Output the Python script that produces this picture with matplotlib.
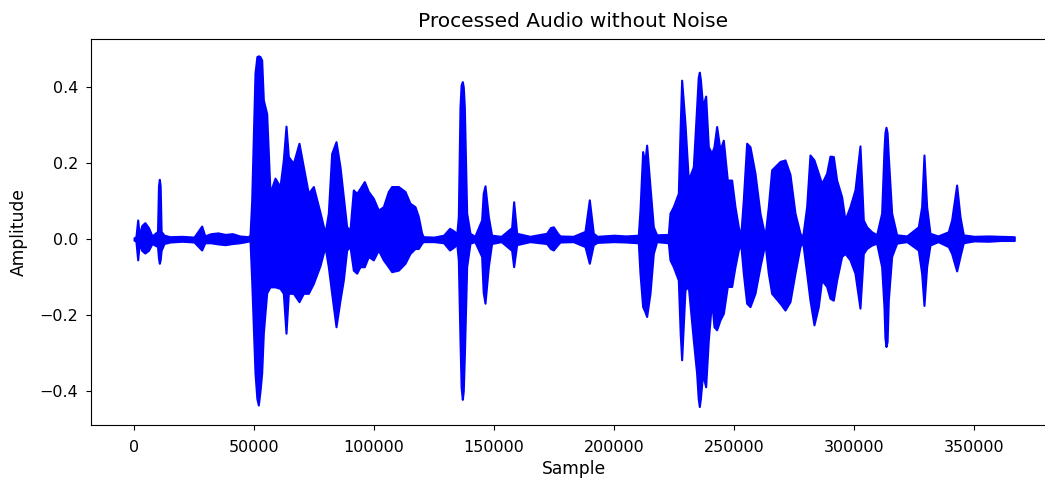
import numpy as np
import matplotlib
matplotlib.use("Agg")
import matplotlib.pyplot as plt

# envelope of the waveform (sample index, upper, lower)
sample = [0, 800, 1540, 2200, 3200, 4500, 6000, 7500, 9800, 10200, 10550, 10900, 11300, 12500,
          15000, 20000, 25000, 28200, 29500, 32000, 35000, 38000, 41000, 44000, 47500,
          48333, 49030, 50417, 51200, 51806, 52500, 53194, 53889, 55278, 56667, 58750, 60833, 62222,
          63333, 64306, 66389, 68750, 70556, 72639, 74722, 77500, 79583, 80972, 82361,
          84167, 85833, 87222, 88611, 90000, 91389, 92778, 94167, 95972, 97639, 99722,
          101806, 103889, 105972, 107361, 110139, 112917, 115000, 117083, 118472, 119861,
          120556, 125000, 129000, 131500, 133500, 134444, 135139, 135833, 136300, 136806, 137200, 137639,
          138611, 140000, 142000, 144861, 145500, 146250, 147639, 149000, 153000, 157361,
          158194, 159444, 165000, 171944, 173500, 174722, 176500, 177500, 183000, 187917,
          189722, 191389, 193000, 200000, 205000, 210139, 210833, 211944, 212800, 213611,
          215000, 216389, 217778, 222639, 223333, 224722, 226806, 227600, 228194, 229583,
          230972, 233056, 234444, 235100, 235556, 236000, 236944, 238194, 239306, 240694, 241667, 242778,
          244167, 245556, 247222, 249028, 250417, 251806, 252778, 253889, 255278, 256667,
          258750, 260833, 262917, 264306, 265694, 269167, 271250, 273333, 275417, 277500,
          278611, 280278, 281667, 283333, 285139, 286528, 288611, 290000, 291389, 292778,
          294861, 296250, 298333, 300417, 302500, 303889, 305278, 307361, 309444, 311528,
          312500, 312900, 313333, 313800, 314306, 315694, 317778, 322000, 326806, 328194, 329167, 330278,
          331667, 335000, 339306, 340694, 342778, 344167, 345556, 350000, 356000, 361000,
          366800]

upper = [0.003, 0.006, 0.050, 0.008, 0.035, 0.043, 0.030, 0.008, 0.020, 0.140, 0.157, 0.140, 0.020, 0.010,
         0.006, 0.007, 0.005, 0.034, 0.008, 0.014, 0.016, 0.012, 0.014, 0.008, 0.006,
         0.010, 0.100, 0.437, 0.480, 0.482, 0.480, 0.471, 0.366, 0.330, 0.121, 0.160, 0.138, 0.208,
         0.297, 0.217, 0.199, 0.252, 0.190, 0.120, 0.138, 0.070, 0.015, 0.068, 0.225,
         0.256, 0.190, 0.111, 0.032, 0.024, 0.129, 0.120, 0.133, 0.151, 0.125, 0.107,
         0.076, 0.085, 0.125, 0.138, 0.138, 0.125, 0.094, 0.085, 0.059, 0.015,
         0.006, 0.005, 0.010, 0.028, 0.020, 0.010, 0.059, 0.348, 0.405, 0.414, 0.400, 0.348,
         0.068, 0.015, 0.007, 0.050, 0.120, 0.140, 0.059, 0.010, 0.007, 0.030,
         0.098, 0.015, 0.007, 0.015, 0.030, 0.032, 0.015, 0.008, 0.007, 0.020,
         0.103, 0.015, 0.007, 0.010, 0.008, 0.010, 0.076, 0.230, 0.200, 0.247,
         0.138, 0.032, 0.011, 0.012, 0.068, 0.085, 0.120, 0.300, 0.418, 0.304,
         0.155, 0.190, 0.348, 0.425, 0.439, 0.420, 0.348, 0.376, 0.243, 0.225, 0.243, 0.296,
         0.234, 0.260, 0.155, 0.155, 0.085, 0.032, 0.006, 0.103, 0.252, 0.243,
         0.173, 0.068, 0.006, 0.085, 0.182, 0.204, 0.208, 0.170, 0.068, 0.015,
         0.005, 0.085, 0.221, 0.208, 0.173, 0.146, 0.173, 0.218, 0.217, 0.155,
         0.111, 0.050, 0.085, 0.129, 0.245, 0.050, 0.032, 0.019, 0.011, 0.068,
         0.234, 0.280, 0.294, 0.280, 0.217, 0.068, 0.011, 0.008, 0.032, 0.085, 0.221, 0.085,
         0.015, 0.008, 0.019, 0.050, 0.142, 0.059, 0.011, 0.007, 0.008, 0.007,
         0.006]

lower = [-0.003, -0.006, -0.055, -0.010, -0.030, -0.037, -0.030, -0.012, -0.020, -0.050, -0.064, -0.055, -0.030, -0.012,
         -0.008, -0.006, -0.008, -0.029, -0.010, -0.010, -0.013, -0.015, -0.012, -0.010, -0.006,
         -0.003, -0.108, -0.353, -0.420, -0.437, -0.400, -0.353, -0.247, -0.142, -0.126, -0.126, -0.130, -0.143,
         -0.248, -0.143, -0.143, -0.165, -0.143, -0.143, -0.117, -0.070, -0.020, -0.073, -0.143,
         -0.231, -0.161, -0.108, -0.029, -0.020, -0.082, -0.090, -0.073, -0.073, -0.046, -0.055,
         -0.029, -0.055, -0.073, -0.086, -0.082, -0.064, -0.038, -0.025, -0.025, -0.011,
         -0.007, -0.007, -0.010, -0.029, -0.020, -0.010, -0.055, -0.266, -0.390, -0.422, -0.400, -0.310,
         -0.073, -0.011, -0.007, -0.046, -0.140, -0.169, -0.073, -0.012, -0.007, -0.030,
         -0.073, -0.015, -0.007, -0.012, -0.025, -0.029, -0.015, -0.008, -0.007, -0.020,
         -0.064, -0.015, -0.009, -0.007, -0.008, -0.010, -0.090, -0.178, -0.190, -0.204,
         -0.143, -0.038, -0.007, -0.010, -0.055, -0.073, -0.108, -0.250, -0.318, -0.134,
         -0.125, -0.266, -0.354, -0.420, -0.441, -0.420, -0.354, -0.389, -0.266, -0.161, -0.231, -0.239,
         -0.213, -0.196, -0.125, -0.125, -0.073, -0.029, -0.011, -0.090, -0.169, -0.178,
         -0.143, -0.073, -0.011, -0.090, -0.143, -0.169, -0.187, -0.165, -0.090, -0.020,
         -0.007, -0.090, -0.161, -0.226, -0.178, -0.108, -0.125, -0.156, -0.161, -0.108,
         -0.046, -0.038, -0.055, -0.090, -0.182, -0.038, -0.025, -0.016, -0.011, -0.073,
         -0.178, -0.260, -0.283, -0.270, -0.161, -0.046, -0.011, -0.007, -0.029, -0.090, -0.175, -0.073,
         -0.016, -0.007, -0.020, -0.038, -0.084, -0.046, -0.010, -0.005, -0.006, -0.004,
         -0.004]

sample = np.array(sample)
upper = np.array(upper)
lower = np.array(lower)

fig = plt.figure(figsize=(10.45, 4.78), dpi=100)
# the original was cropped on the right, so the axes run past the edge
ax = fig.add_axes([0.0869, 0.1109, 0.9239, 0.8065])

ax.fill_between(sample, lower, upper, color='blue', edgecolor='blue', linewidth=1.5)

ax.set_xlim(-18000, 384300)
ax.set_ylim(-0.4895, 0.525)
ax.set_xticks([0, 50000, 100000, 150000, 200000, 250000, 300000, 350000])
ax.set_yticks([-0.4, -0.2, 0.0, 0.2, 0.4])
ax.tick_params(labelsize=11.5)
ax.tick_params(axis='y', pad=5.8)
ax.tick_params(axis='x', pad=7)
ax.spines['right'].set_visible(False)
ax.set_title("Processed Audio without Noise", fontsize=14.5, pad=9)
ax.set_xlabel("Sample", fontsize=12.3)
ax.set_ylabel("Amplitude", fontsize=12.3, labelpad=8)

fig.savefig("out.png", dpi=100)
